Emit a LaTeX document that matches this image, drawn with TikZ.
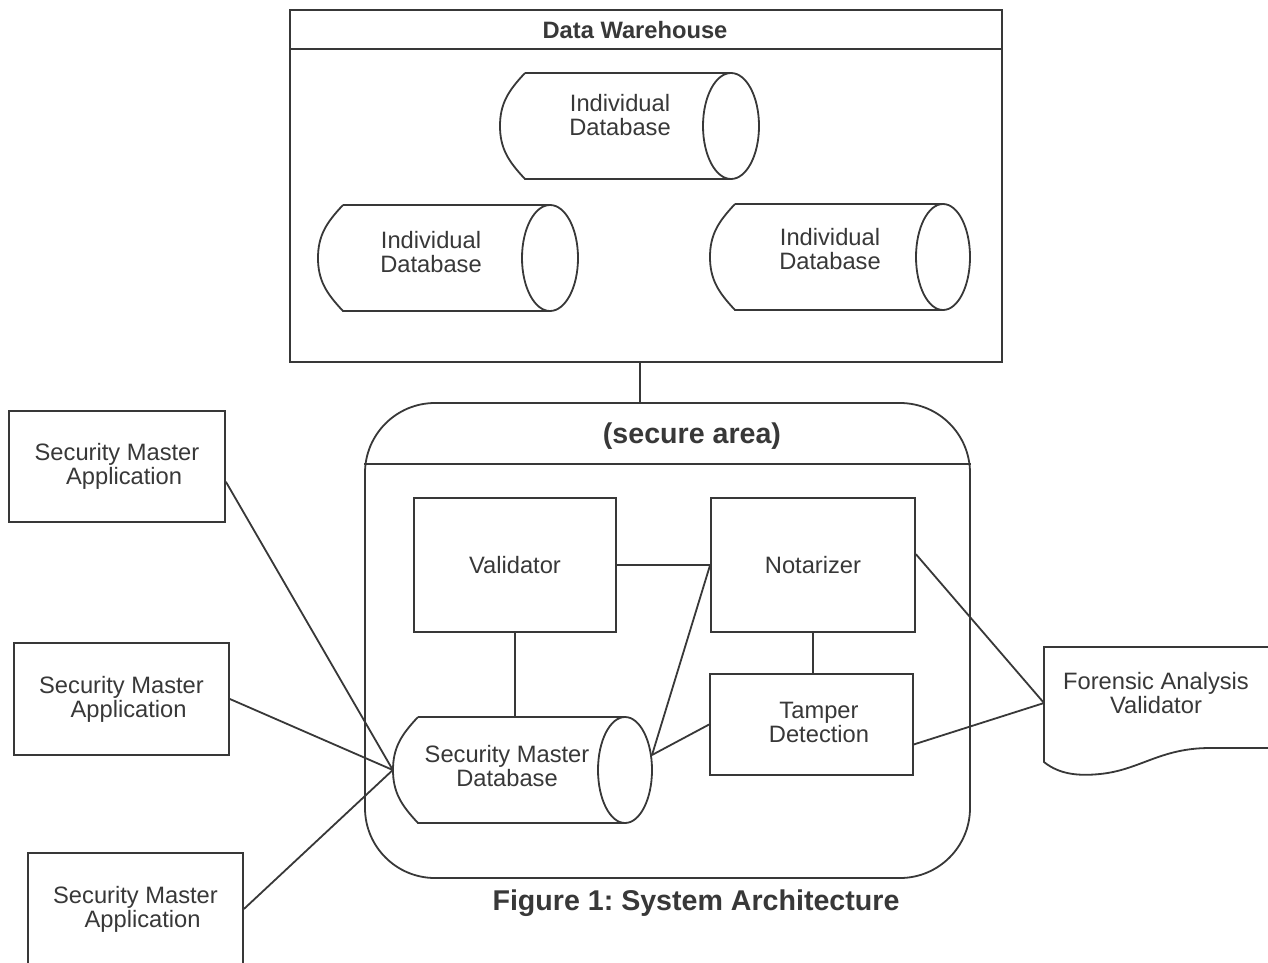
\documentclass[tikz,border=0pt]{standalone}
\usepackage{fontspec}
\setmainfont{Liberation Sans}
\usetikzlibrary{fit,calc}
\definecolor{ink}{HTML}{383838}
\frenchspacing
\newcommand{\dbcyl}[6]{% name, left, top, bottom, ellipse centre x, ellipse x radius
  \path (#2,#3) coordinate (#1-nw) ({#5+#6},#4) coordinate (#1-se);
  \node[fit=(#1-nw)(#1-se), inner sep=0pt] (#1) {};
  \draw[line] ({#2+25},#3) -- (#5,#3)
    (#5,#4) -- ({#2+25},#4)
    .. controls ({#2+8},{#4-18}) and (#2,{(#3+#4)/2+22}) .. (#2,{(#3+#4)/2})
    .. controls (#2,{(#3+#4)/2-22}) and ({#2+8},{#3+18}) .. ({#2+25},#3);
  \draw[line] (#5,{(#3+#4)/2}) ellipse [x radius=#6, y radius={(#4-#3)/2}];
}
\begin{document}
\begin{tikzpicture}[x=1pt,y=-1pt,
  line/.style={draw=ink, line width=1.8pt},
  every node/.style={text=ink, font=\fontsize{23.7}{24}\selectfont, align=center},
  box/.style={line, rectangle, inner sep=0pt},
  txt/.style={inner sep=0pt},
  bigbold/.style={font=\fontsize{28.6}{30}\selectfont\bfseries}]
\useasboundingbox (0,0) rectangle (1268,963);
\fill[white] (0,0) rectangle (1268,963);

% Data warehouse
\node[box, minimum width=712pt, minimum height=352pt] (dw) at (646,186) {};
\draw[line] (dw.west |- 0,49) -- (dw.east |- 0,49);
\node[txt, font=\fontsize{23.7}{24}\selectfont\bfseries] (dwt) at (635,30) {Data Warehouse};

\dbcyl{db1}{500}{73}{179}{731}{28}
\node[txt] (db1t) at (620,115) {Individual\\Database};
\dbcyl{db2}{318}{205}{311}{550}{28}
\node[txt] (db2t) at (431,252) {Individual\\Database};
\dbcyl{db3}{710}{204}{310}{943}{27}
\node[txt] (db3t) at (830,249) {Individual\\Database};

% secure area
\node[line, rectangle, rounded corners=70pt, minimum width=605pt, minimum height=475pt] (sa) at (667.5,640.5) {};
\draw[line] (sa.west |- 0,464) -- (sa.east |- 0,464);
\node[txt, bigbold] (sat) at (692,436) {(secure area)};
\coordinate (dwlink) at (640,0);
\draw[line] (dw.south -| dwlink) -- (sa.north -| dwlink);

\node[box, minimum width=202pt, minimum height=134pt] (val) at (515,565) {Validator};
\node[box, minimum width=204pt, minimum height=134pt] (nota) at (813,565) {Notarizer};
\node[box, minimum width=203pt, minimum height=101pt] (tamp) at (811.5,724.5) {};
\node[txt] (tampt) at (819,722) {Tamper\\Detection};
\dbcyl{smdb}{393}{717}{823}{625}{27}
\node[txt] (smdbt) at (507,766) {Security Master\\Database};

% applications
\node[box, minimum width=216pt, minimum height=111pt] (sma1) at (117,466.5) {Security Master\\\hspace{0.6em}Application};
\node[box, minimum width=215pt, minimum height=112pt] (sma2) at (121.5,699) {Security Master\\\hspace{0.6em}Application};
\node[box, minimum width=215pt, minimum height=112pt] (sma3) at (135.5,909) {Security Master\\\hspace{0.6em}Application};

% forensic document
\draw[line] (1044,647) -- (1272,647) -- (1272,748) -- (1210,748)
  .. controls (1160,748) and (1140,770) .. (1100,774)
  .. controls (1080,776) and (1060,775) .. (1044,762) -- cycle;
\path (1044,647) coordinate (fav-nw) (1268,762) coordinate (fav-se);
\node[fit=(fav-nw)(fav-se), inner sep=0pt] (fav) {};
\node[txt] (favt) at (1156,693) {Forensic Analysis\\Validator};
\coordinate (favin) at (1044,703);

% connectors
\draw[line] (val.east) -- (nota.west);
\draw[line] (val.south) -- (val.south |- smdb.north);
\draw[line] (nota.south) -- (nota.south |- tamp.north);
\coordinate (smdbout) at (652,755);
\draw[line] (smdbout) -- (nota.west);
\draw[line] (smdbout) -- (tamp.west);
\draw[line] (nota.6) -- (favin);
\draw[line] (tamp.-11) -- (favin);
\draw[line] (sma1.-8.7) -- (smdb.west);
\draw[line] (sma2.east) -- (smdb.west);
\draw[line] (sma3.east) -- (smdb.west);

\node[txt, bigbold] (cap) at (696,903) {Figure 1: System Architecture};
\end{tikzpicture}
\end{document}
